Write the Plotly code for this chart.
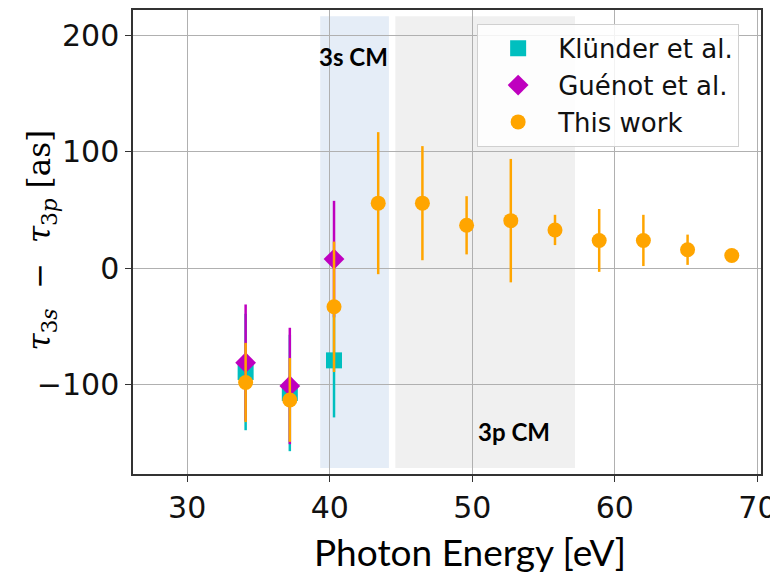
import plotly.graph_objects as go

# photon energies (eV)
energy_this = [34.1, 37.2, 40.3, 43.4, 46.5, 49.6, 52.7, 55.8, 58.9, 62.0, 65.1, 68.2]
delay_this = [-98, -113, -33, 56, 56, 37, 41, 33, 24, 24, 16, 11]
err_this = [34, 36, 56, 61, 49, 25, 53, 13, 27, 22, 13, 3]

energy_klunder = [34.1, 37.2, 40.3]
delay_klunder = [-89, -107, -79]
err_klunder = [50, 50, 49]

energy_guenot = [34.1, 37.2, 40.3]
delay_guenot = [-81, -101, 8]
err_guenot = [50, 50, 50]

fig = go.Figure()

fig.add_trace(go.Scatter(
    x=energy_klunder, y=delay_klunder, mode="markers", name="Klünder et al.",
    legendgroup="k",
    marker=dict(symbol="square", size=16, color="#00bfbf"),
    error_y=dict(type="data", array=err_klunder, width=0, thickness=2.5, color="#00bfbf"),
))
fig.add_trace(go.Scatter(
    x=energy_guenot, y=delay_guenot, mode="markers", name="Guénot et al.",
    legendgroup="g",
    marker=dict(symbol="diamond", size=16, color="#bf00bf"),
    error_y=dict(type="data", array=err_guenot, width=0, thickness=2.5, color="#bf00bf"),
))
fig.add_trace(go.Scatter(
    x=energy_this, y=delay_this, mode="markers", name="This work",
    legendgroup="t",
    marker=dict(symbol="circle", size=15, color="#ffa500"),
    error_y=dict(type="data", array=err_this, width=0, thickness=2.5, color="#ffa500"),
))

# shaded regions: 3s and 3p Cooper minima
fig.add_shape(type="rect", x0=39.33, x1=44.15, y0=-171.5, y1=216.5,
              fillcolor="#e5edf7", line_width=0, layer="below")
fig.add_shape(type="rect", x0=44.6, x1=57.2, y0=-171.5, y1=216.5,
              fillcolor="#f0f0f0", line_width=0, layer="below")

fig.add_annotation(x=41.7, y=182, text="<b>3s CM</b>", showarrow=False,
                   font=dict(family="Lato", size=24, color="black"))
fig.add_annotation(x=52.95, y=-140.5, text="<b>3p CM</b>", showarrow=False,
                   font=dict(family="Lato", size=24, color="black"))

# axis titles placed by hand, like the original
fig.add_annotation(
    xref="paper", yref="paper", x=-0.145, y=0.505,
    text="<i>τ</i><sub>3<i>s</i></sub>  −  <i>τ</i><sub>3<i>p</i></sub> [as]",
    textangle=-90, showarrow=False, xanchor="center", yanchor="middle",
    font=dict(family="DejaVu Serif", size=31, color="black"),
)
fig.add_annotation(
    xref="paper", yref="paper", x=0.537, y=-0.166,
    text="Photon Energy [eV]", showarrow=False, xanchor="center", yanchor="middle",
    font=dict(family="Lato", size=37, color="black"),
)

axis_common = dict(
    showgrid=True, gridcolor="#b0b0b0", gridwidth=1,
    showline=True, linecolor="#333333", linewidth=1.5, mirror=True,
    ticks="outside", ticklen=6, tickcolor="#333333",
    tickfont=dict(family="DejaVu Sans", size=30, color="#111111"),
    zeroline=False, automargin=False,
)

fig.update_xaxes(range=[26.2, 70.25], tickvals=[30, 40, 50, 60, 70], **axis_common)
fig.update_yaxes(range=[-176.6, 221.9], tickvals=[-100, 0, 100, 200], tickformat="d", **axis_common)

# page body adds an 8px offset, so the figure is 8px smaller than the window
fig.update_layout(
    width=770, height=566,
    margin=dict(l=125, r=17, t=1.5, b=100),
    plot_bgcolor="white", paper_bgcolor="white",
    legend=dict(
        x=0.548, y=0.97, xanchor="left", yanchor="top",
        font=dict(family="DejaVu Sans", size=26, color="#111111"),
        bgcolor="rgba(255,255,255,0.85)", bordercolor="#d0d0d0", borderwidth=1,
        traceorder="grouped", tracegroupgap=0, itemwidth=70,
    ),
)

fig.write_html("out.html")
